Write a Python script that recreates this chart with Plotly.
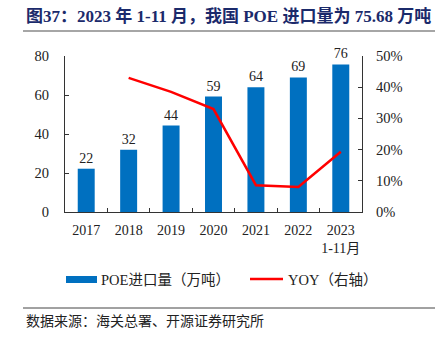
import plotly.graph_objects as go

categories = ["2017", "2018", "2019", "2020", "2021", "2022", "2023<br>1-11月"]
poe_import = [22.2, 31.9, 44.3, 59.2, 64.0, 69.0, 75.68]
poe_labels = ["22", "32", "44", "59", "64", "69", "76"]
yoy = [None, 43.0, 38.5, 33.0, 8.6, 8.0, 19.3]
left_ticks = [0, 20, 40, 60, 80]
right_ticks = [0, 10, 20, 30, 40, 50]
right_tick_text = ["0%", "10%", "20%", "30%", "40%", "50%"]

W, H = 444, 339
L, R, T, B = 65, 362, 56, 212

def px(x):
    return (x - L) / (R - L)

def py(y):
    return (B - y) / (B - T)

SERIF = "Liberation Serif, Times New Roman, Noto Sans CJK SC, serif"
BLUE = "#0070c0"
RED = "#ff0000"

fig = go.Figure()
fig.add_trace(go.Bar(
    x=categories, y=poe_import, marker_color=BLUE, marker_line_width=0,
    text=poe_labels, textposition="outside", cliponaxis=False,
    textfont=dict(family=SERIF, size=14, color="#222"),
    name="POE进口量（万吨）", showlegend=False,
))
fig.add_trace(go.Scatter(
    x=categories, y=yoy, yaxis="y2", mode="lines",
    line=dict(color=RED, width=2.5), name="YOY（右轴）", showlegend=False,
))

fig.update_layout(
    width=W, height=H, autosize=False,
    margin=dict(l=L, r=W - R, t=T, b=H - B),
    paper_bgcolor="white", plot_bgcolor="white",
    bargap=0.6,
    font=dict(family=SERIF, size=14, color="#222"),
    xaxis=dict(
        showline=True, linecolor="#333", linewidth=1,
        ticks="inside", tickson="boundaries", ticklen=4, tickcolor="#333",
        tickangle=0, ticklabelstandoff=5,
        tickfont=dict(family=SERIF, size=14, color="#222"),
        range=[-0.5, 6.5],
    ),
    yaxis=dict(
        range=[0, 80], tickmode="array", tickvals=left_ticks, showgrid=False, zeroline=False,
        showline=True, linecolor="#333", linewidth=1,
        ticks="inside", ticklen=4, tickcolor="#333", ticklabelstandoff=12,
        tickfont=dict(family=SERIF, size=14.5, color="#222"),
    ),
    yaxis2=dict(
        overlaying="y", side="right", range=[0, 50],
        tickmode="array", tickvals=right_ticks, ticktext=right_tick_text,
        showgrid=False, zeroline=False,
        showline=True, linecolor="#333", linewidth=1,
        ticks="inside", ticklen=4, tickcolor="#333", ticklabelstandoff=10,
        tickfont=dict(family=SERIF, size=14.5, color="#222"),
    ),
)

shapes = [
    dict(type="line", xref="paper", yref="paper", x0=px(23), x1=px(435), y0=py(31), y1=py(31),
         line=dict(color="#888", width=1.5)),
    dict(type="line", xref="paper", yref="paper", x0=px(23), x1=px(435), y0=py(308), y1=py(308),
         line=dict(color="#444", width=1)),
    dict(type="rect", xref="paper", yref="paper", x0=px(66), x1=px(97), y0=py(283), y1=py(276),
         fillcolor=BLUE, line=dict(width=0)),
    dict(type="line", xref="paper", yref="paper", x0=px(250), x1=px(283), y0=py(279), y1=py(279),
         line=dict(color=RED, width=2.5)),
]
annotations = [
    dict(text="<b>图37：2023 年 1-11 月，我国 POE 进口量为 75.68 万吨</b>",
         xref="paper", yref="paper", x=px(24), y=py(16), xanchor="left", yanchor="middle",
         showarrow=False, font=dict(family=SERIF, size=17, color="#1b2a6b")),
    dict(text="POE进口量（万吨）", xref="paper", yref="paper", x=px(99), y=py(280),
         xanchor="left", yanchor="middle", showarrow=False,
         font=dict(family=SERIF, size=14.5, color="#222")),
    dict(text="YOY（右轴）", xref="paper", yref="paper", x=px(286), y=py(280),
         xanchor="left", yanchor="middle", showarrow=False,
         font=dict(family=SERIF, size=14.5, color="#222")),
    dict(text="数据来源：海关总署、开源证券研究所", xref="paper", yref="paper", x=px(24), y=py(321),
         xanchor="left", yanchor="middle", showarrow=False,
         font=dict(family=SERIF, size=14, color="#222")),
]
fig.update_layout(shapes=shapes, annotations=annotations)

fig.write_html("out.html")
